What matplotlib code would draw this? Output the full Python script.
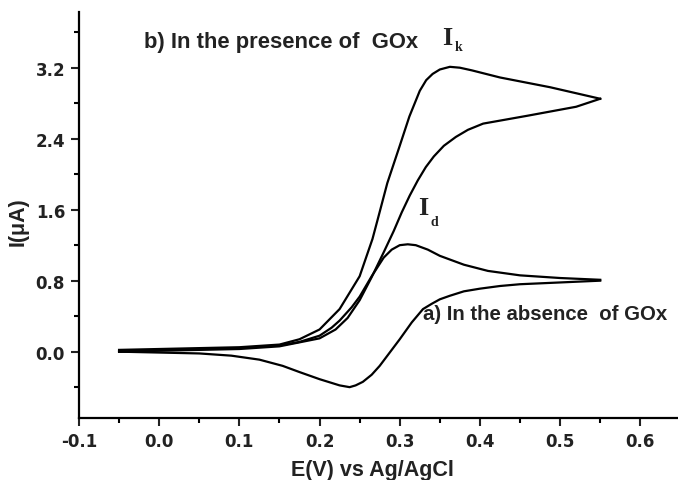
import matplotlib
matplotlib.use("Agg")
import matplotlib.pyplot as plt
from matplotlib.ticker import MultipleLocator

plt.rcParams['font.family'] = ['Liberation Sans', 'DejaVu Sans']
plt.rcParams['font.weight'] = 'bold'

# cyclic voltammogram, a) without GOx: anodic sweep then cathodic sweep
E_a_fwd = [-0.05, 0.0, 0.05, 0.1, 0.15, 0.175, 0.2, 0.215, 0.225, 0.24, 0.25, 0.265,
           0.28, 0.29, 0.3, 0.31, 0.32, 0.335, 0.35, 0.38, 0.41, 0.45, 0.5, 0.55]
I_a_fwd = [0.0, 0.02, 0.03, 0.04, 0.07, 0.11, 0.18, 0.27, 0.35, 0.5, 0.62, 0.85,
           1.06, 1.15, 1.2, 1.21, 1.2, 1.15, 1.08, 0.98, 0.91, 0.86, 0.83, 0.81]
E_a_rev = [0.55, 0.5, 0.45, 0.425, 0.4, 0.38, 0.3625, 0.35, 0.34, 0.329, 0.315, 0.3,
           0.285, 0.275, 0.265, 0.254, 0.245, 0.2375, 0.225, 0.2, 0.175, 0.154, 0.125,
           0.09, 0.05, 0.0, -0.05]
I_a_rev = [0.8, 0.78, 0.76, 0.74, 0.71, 0.68, 0.63, 0.59, 0.54, 0.48, 0.33, 0.14,
           -0.04, -0.16, -0.26, -0.34, -0.38, -0.4, -0.38, -0.31, -0.23, -0.16, -0.09,
           -0.045, -0.02, -0.01, 0.0]

# b) with GOx: catalytic wave
E_b_fwd = [-0.05, 0.0, 0.05, 0.1, 0.15, 0.175, 0.2, 0.225, 0.25, 0.266, 0.2725, 0.2845,
           0.3, 0.312, 0.325, 0.333, 0.341, 0.35, 0.3625, 0.375, 0.39, 0.425, 0.4875, 0.55]
I_b_fwd = [0.02, 0.03, 0.04, 0.05, 0.08, 0.14, 0.25, 0.48, 0.85, 1.27, 1.49, 1.9,
           2.32, 2.65, 2.94, 3.06, 3.13, 3.18, 3.21, 3.2, 3.17, 3.09, 2.98, 2.85]
E_b_rev = [0.55, 0.52, 0.46, 0.404, 0.385, 0.37, 0.355, 0.3425, 0.3325, 0.3225, 0.3125,
           0.3025, 0.2925, 0.28, 0.265, 0.25, 0.235, 0.22, 0.2, 0.15, 0.1, 0.0, -0.05]
I_b_rev = [2.85, 2.76, 2.66, 2.57, 2.5, 2.42, 2.32, 2.2, 2.08, 1.93, 1.76,
           1.57, 1.36, 1.12, 0.84, 0.58, 0.38, 0.25, 0.15, 0.06, 0.03, 0.01, 0.0]

fig = plt.figure(figsize=(6.78, 4.81), dpi=100)
ax = fig.add_axes([0.1165, 0.129, 0.8835, 0.844])

for E, I in [(E_a_fwd, I_a_fwd), (E_a_rev, I_a_rev), (E_b_fwd, I_b_fwd), (E_b_rev, I_b_rev)]:
    ax.plot(E, I, color='black', lw=1.6, solid_joinstyle='round')

ax.set_xlim(-0.1, 0.647)
ax.set_ylim(-0.747, 3.828)
ax.xaxis.set_minor_locator(MultipleLocator(0.05))
ax.yaxis.set_minor_locator(MultipleLocator(0.4))
ax.set_xticks([-0.1, 0.0, 0.1, 0.2, 0.3, 0.4, 0.5, 0.6])
ax.set_xticklabels(['-0.1', '0.0', '0.1', '0.2', '0.3', '0.4', '0.5', '0.6'])
ax.set_yticks([0.0, 0.8, 1.6, 2.4, 3.2])
ax.set_yticklabels(['0.0', '0.8', '1.6', '2.4', '3.2'])

for side in ['top', 'right']:
    ax.spines[side].set_visible(False)
for side in ['left', 'bottom']:
    ax.spines[side].set_linewidth(1.6)
ax.tick_params(which='major', direction='out', length=6, width=1.5,
               labelsize=12, colors='#222222', pad=4)
ax.tick_params(which='minor', direction='out', length=3.5, width=1.5)
for lab in ax.get_xticklabels() + ax.get_yticklabels():
    lab.set_family('DejaVu Sans')
    lab.set_fontweight('bold')

ax.set_xlabel('E(V) vs Ag/AgCl', fontsize=15.5, fontweight='bold', color='#222222')
ax.xaxis.set_label_coords(0.49, -0.14)
ax.xaxis.label.set_va('baseline')
ax.set_ylabel('I(μA)', fontsize=15.5, fontweight='bold', color='#222222')
ax.yaxis.set_label_coords(-0.102, 0.485)
ax.yaxis.label.set_va('center')

ax.text(-0.019, 3.49, 'b) In the presence of  GOx', fontsize=15.8, fontweight='bold',
        color='#222222', va='center')
ax.text(0.329, 0.425, 'a) In the absence  of GOx', fontsize=14.7, fontweight='bold',
        color='#222222', va='center')

# peak current markers: I_k (catalytic) and I_d (diffusion)
serif = dict(family='Liberation Serif', fontweight='bold', color='#222222', va='baseline')
ax.text(0.3525, 3.467, 'I', fontsize=19, **serif)
ax.text(0.369, 3.40, 'k', fontsize=10, **serif)
ax.text(0.3225, 1.55, 'I', fontsize=19, **serif)
ax.text(0.3385, 1.43, 'd', fontsize=10, **serif)

fig.savefig('out.png', dpi=100)
